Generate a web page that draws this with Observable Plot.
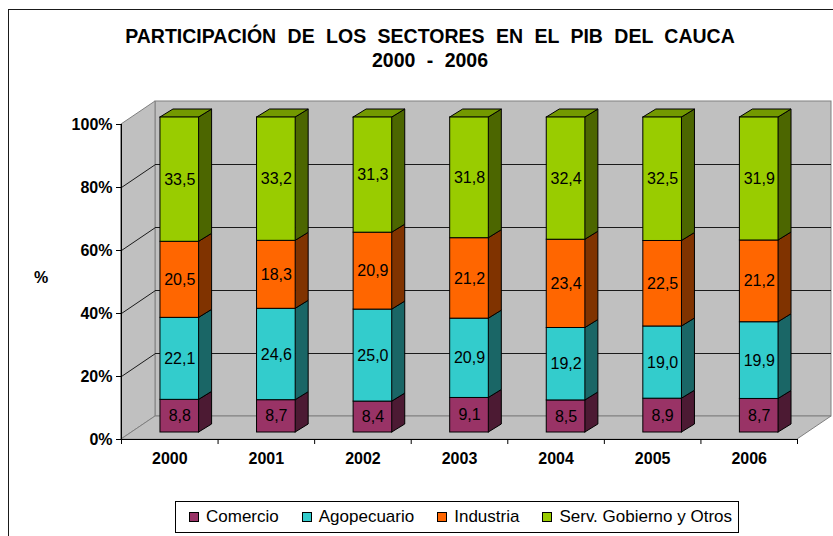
<!DOCTYPE html>
<html>
<head>
<meta charset="utf-8">
<script src="https://cdn.jsdelivr.net/npm/d3@7"></script>
<script src="https://cdn.jsdelivr.net/npm/@observablehq/plot@0.6"></script>
<style>
  html, body { margin: 0; padding: 0; background: #fff; overflow: hidden; }
  #wrap { position: relative; width: 833px; height: 536px; overflow: hidden; font-family: "Liberation Sans", Arial, sans-serif; }
  #frame { position: absolute; left: 8px; top: 9px; width: 900px; height: 600px; border: 1.5px solid #1a1a1a; box-sizing: border-box; }
  .title { position: absolute; left: 0; width: 860px; text-align: center; font-weight: bold; font-size: 19.5px; line-height: 19px; word-spacing: 6px; color: #000; white-space: nowrap; }
  #ylab { position: absolute; left: 34px; top: 269px; font-weight: bold; font-size: 16px; line-height: 18px; }
  #chart { position: absolute; left: 0; top: 0; }
  #legend { position: absolute; left: 175px; top: 501px; width: 564px; height: 32px; border: 1px solid #000; box-sizing: border-box; background: #fff; display: flex; align-items: center; padding-left: 13px; font-size: 17px; font-family: "Liberation Sans", Arial, sans-serif; white-space: nowrap; }
  .item { display: flex; align-items: center; margin-right: 23px; flex-shrink: 0; }
  .sw { width: 8px; height: 8px; border: 1px solid #000; margin-right: 7px; box-sizing: content-box; flex-shrink: 0; }
</style>
</head>
<body>
<div id="wrap">
  <div id="frame"></div>
  <div class="title" style="top:27px">PARTICIPACIÓN DE LOS SECTORES EN EL PIB DEL CAUCA</div>
  <div class="title" style="top:51px">2000 - 2006</div>
  <div id="chart"></div>
  <div id="ylab">%</div>
  <div id="legend"></div>
</div>
<script>
// ---- data ----
const years = ["2000", "2001", "2002", "2003", "2004", "2005", "2006"];
const comercio = [8.8, 8.7, 8.4, 9.1, 8.5, 8.9, 8.7];
const agropecuario = [22.1, 24.6, 25.0, 20.9, 19.2, 19.0, 19.9];
const industria = [20.5, 18.3, 20.9, 21.2, 23.4, 22.5, 21.2];
const servicios = [33.5, 33.2, 31.3, 31.8, 32.4, 32.5, 31.9];
const sectors = ["Comercio", "Agopecuario", "Industria", "Serv. Gobierno y Otros"];
const yTicks = [0, 20, 40, 60, 80, 100];

// ---- styles ----
const frontColors = ["#993366", "#33CCCC", "#FF6600", "#99CC00"];
const sideColors = ["#4C1A33", "#1A6666", "#803300", "#4C6600"];
const topColors = ["#732650", "#269999", "#BF4C00", "#739900"];
const wallColor = "#C0C0C0";
const edgeColor = "#808080";

// ---- layout ----
const W = 833, H = 536, mL = 121, mR = 36, mT = 124, mB = 97;
const n = years.length;
const yMax = d3.max(yTicks);
const kx = (W - mL - mR) / n;      // px per category unit
const ky = (H - mT - mB) / yMax;   // px per percent unit
// depth offsets (pixels -> data units)
const wdx = 34 / kx, wdy = 23 / ky;      // wall depth
const bfx = 10 / kx, bfy = 7 / ky;       // bar front offset
const bdx = 13 / kx, bdy = 8 / ky;       // bar depth
const b0 = 0.30, b1 = 0.70;              // bar extent inside band

// ---- stacked (normalized) rows ----
const series = [comercio, agropecuario, industria, servicios];
const rows = [];
years.forEach((yr, i) => {
  const total = d3.sum(series, s => s[i]);
  let acc = 0;
  series.forEach((s, k) => {
    const lo = acc / total * yMax;
    acc += s[i];
    const hi = acc / total * yMax;
    rows.push({i, k, yr, v: s[i], lo, hi, key: yr + "-" + k});
  });
});

const sidePts = rows.flatMap(r => [
  {key: r.key, k: r.k, x: r.i + b1 + bfx, y1: r.lo + bfy, y2: r.hi + bfy},
  {key: r.key, k: r.k, x: r.i + b1 + bfx + bdx, y1: r.lo + bfy + bdy, y2: r.hi + bfy + bdy}
]);
const topRows = rows.filter(r => r.k === series.length - 1);
const topPts = topRows.flatMap(r => [
  {key: r.key, k: r.k, y: r.hi + bfy, x1: r.i + b0 + bfx, x2: r.i + b1 + bfx},
  {key: r.key, k: r.k, y: r.hi + bfy + bdy, x1: r.i + b0 + bfx + bdx, x2: r.i + b1 + bfx + bdx}
]);

const leftWall = [{x: 0, y1: 0, y2: yMax}, {x: wdx, y1: wdy, y2: yMax + wdy}];
const floor = [{y: 0, x1: 0, x2: n}, {y: wdy, x1: wdx, x2: n + wdx}];
const innerTicks = yTicks.filter(t => t > 0 && t < yMax);
const fmt = v => v.toFixed(1).replace(".", ",");

const chart = Plot.plot({
  width: W, height: H,
  marginLeft: mL, marginRight: mR, marginTop: mT, marginBottom: mB,
  x: {type: "linear", domain: [0, n], axis: null},
  y: {type: "linear", domain: [0, yMax], axis: null},
  color: {type: "identity"},
  style: {fontFamily: "'Liberation Sans', Arial, sans-serif", fontSize: "16px", color: "#000", background: "transparent", overflow: "visible"},
  marks: [
    // back wall
    Plot.rect([0], {x1: wdx, x2: n + wdx, y1: wdy, y2: yMax + wdy, fill: wallColor, stroke: edgeColor}),
    // left wall
    Plot.area(leftWall, {x1: "x", y1: "y1", y2: "y2", fill: wallColor, stroke: edgeColor}),
    // floor
    Plot.area(floor, {y1: "y", x1: "x1", x2: "x2", fill: wallColor, stroke: edgeColor}),
    // gridlines on back wall
    Plot.ruleY(innerTicks, {y: d => d + wdy, x1: wdx, x2: n + wdx, stroke: "#1a1a1a", strokeWidth: 1}),
    // gridlines on left wall
    Plot.link(innerTicks, {x1: 0, y1: d => d, x2: wdx, y2: d => d + wdy, stroke: "#1a1a1a", strokeWidth: 1}),
    // bar side faces
    Plot.area(sidePts, {x1: "x", y1: "y1", y2: "y2", z: "key", fill: d => sideColors[d.k], stroke: "#000", strokeWidth: 1}),
    // bar top faces
    Plot.area(topPts, {y1: "y", x1: "x1", x2: "x2", z: "key", fill: d => topColors[d.k], stroke: "#000", strokeWidth: 1}),
    // bar front faces
    Plot.rect(rows, {x1: r => r.i + b0 + bfx, x2: r => r.i + b1 + bfx, y1: r => r.lo + bfy, y2: r => r.hi + bfy,
      fill: r => frontColors[r.k], stroke: "#000", strokeWidth: 1}),
    // value labels
    Plot.text(rows, {x: r => r.i + (b0 + b1) / 2 + bfx, y: r => (r.lo + r.hi) / 2 + bfy, text: r => fmt(r.v),
      fill: "#000", fontSize: 16}),
    // axis lines
    Plot.ruleX([0], {y1: 0, y2: yMax, stroke: "#000"}),
    Plot.ruleY([0], {x1: 0, x2: n, stroke: "#000"}),
    // y axis
    Plot.axisY({ticks: yTicks, tickFormat: d => d + "%", tickSize: 5, tickPadding: 4, fontWeight: "bold", fontSize: 16, label: null, stroke: "#000"}),
    // x axis ticks at band boundaries
    Plot.axisX({ticks: d3.range(n + 1), tickSize: 5, tickFormat: () => "", label: null, stroke: "#000"}),
    // x labels
    Plot.text(years, {x: (d, i) => i + 0.5, y: 0, dy: 19, text: d => d, fontWeight: "bold", fontSize: 16, fill: "#000"})
  ]
});
document.getElementById("chart").appendChild(chart);

// legend
const legend = document.getElementById("legend");
sectors.forEach((s, k) => {
  const it = document.createElement("div");
  it.className = "item";
  const sw = document.createElement("div");
  sw.className = "sw";
  sw.style.background = frontColors[k];
  const t = document.createElement("span");
  t.textContent = s;
  it.appendChild(sw); it.appendChild(t);
  legend.appendChild(it);
});
</script>
</body>
</html>
